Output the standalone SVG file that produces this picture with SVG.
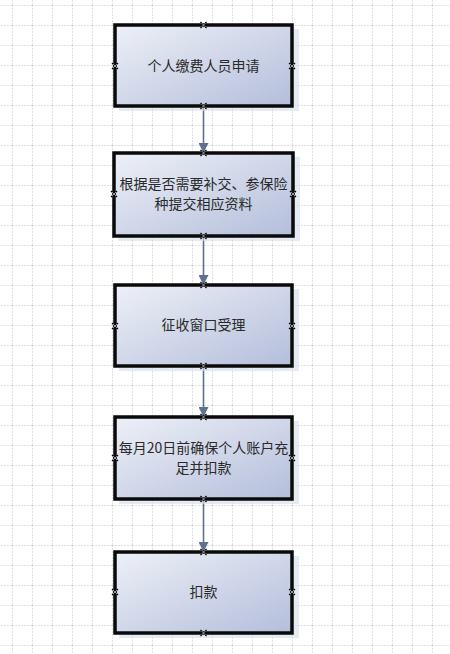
<svg xmlns="http://www.w3.org/2000/svg" width="450" height="654" viewBox="0 0 450 654">
<defs>
<pattern id="grid" x="12" y="5" width="20" height="20" patternUnits="userSpaceOnUse">
<path d="M0 0V20M0 0H20" fill="none" stroke="#c4c4c4" stroke-width="1" stroke-dasharray="2,1"/>
</pattern>
<linearGradient id="g" x1="0" y1="0" x2="1" y2="1">
<stop offset="0" stop-color="#eef0f7"/>
<stop offset="1" stop-color="#b3bedb"/>
</linearGradient>
<marker id="arr" markerWidth="10" markerHeight="10" refX="9" refY="5" orient="auto" markerUnits="userSpaceOnUse">
<path d="M0 0L10 5L0 10Z" fill="#5f7090"/>
</marker>
<g id="cp"><path d="M-3 -3L3 3M-3 3L3 -3" stroke="#000" stroke-width="1.2"/><path d="M-2 -2L2 2M-2 2L2 -2" stroke="#fff" stroke-width="0.6"/></g>
</defs>
<style>
.box{fill:url(#g);stroke:#0a0a0a;stroke-width:3.5}
.sh{fill:#d6dcea;opacity:0.6}
.t{font-family:"Noto Sans CJK SC","Liberation Sans",sans-serif;font-size:14px;fill:#2a2a2a;text-anchor:middle}
.c{stroke:#5f7090;stroke-width:1.6;fill:none}
</style>
<rect width="450" height="654" fill="#fff"/>
<rect width="450" height="654" fill="url(#grid)"/>
<g id="connectors">
<path class="c" d="M203.5 106V152" marker-end="url(#arr)"/>
<path class="c" d="M203.5 236V284" marker-end="url(#arr)"/>
<path class="c" d="M203.5 366V416" marker-end="url(#arr)"/>
<path class="c" d="M203.5 499V551" marker-end="url(#arr)"/>
</g>
<g id="n1">
<rect class="sh" x="119" y="29" width="180" height="82"/>
<rect class="box" x="115" y="25" width="177" height="81"/>
<text class="t" x="203.5" y="71">个人缴费人员申请</text>
<use href="#cp" x="203.5" y="25"/><use href="#cp" x="203.5" y="106"/><use href="#cp" x="115" y="66"/><use href="#cp" x="292" y="66"/>
</g>
<g id="n2">
<rect class="sh" x="118" y="157" width="182" height="84"/>
<rect class="box" x="114" y="153" width="179" height="83"/>
<text class="t" x="203.5" y="189">根据是否需要补交、参保险</text>
<text class="t" x="203.5" y="209">种提交相应资料</text>
<use href="#cp" x="203.5" y="153"/><use href="#cp" x="203.5" y="236"/><use href="#cp" x="114" y="194"/><use href="#cp" x="293" y="194"/>
</g>
<g id="n3">
<rect class="sh" x="119" y="289" width="180" height="82"/>
<rect class="box" x="115" y="285" width="177" height="81"/>
<text class="t" x="203.5" y="330">征收窗口受理</text>
<use href="#cp" x="203.5" y="285"/><use href="#cp" x="203.5" y="366"/><use href="#cp" x="115" y="326"/><use href="#cp" x="292" y="326"/>
</g>
<g id="n4">
<rect class="sh" x="119" y="421" width="180" height="83"/>
<rect class="box" x="115" y="417" width="177" height="82"/>
<text class="t" x="203.5" y="453">每月20日前确保个人账户充</text>
<text class="t" x="203.5" y="473">足并扣款</text>
<use href="#cp" x="203.5" y="417"/><use href="#cp" x="203.5" y="499"/><use href="#cp" x="115" y="458"/><use href="#cp" x="292" y="458"/>
</g>
<g id="n5">
<rect class="sh" x="119" y="556" width="180" height="82"/>
<rect class="box" x="115" y="552" width="177" height="81"/>
<text class="t" x="203.5" y="597">扣款</text>
<use href="#cp" x="203.5" y="552"/><use href="#cp" x="203.5" y="633"/><use href="#cp" x="115" y="592"/><use href="#cp" x="292" y="592"/>
</g>
</svg>
